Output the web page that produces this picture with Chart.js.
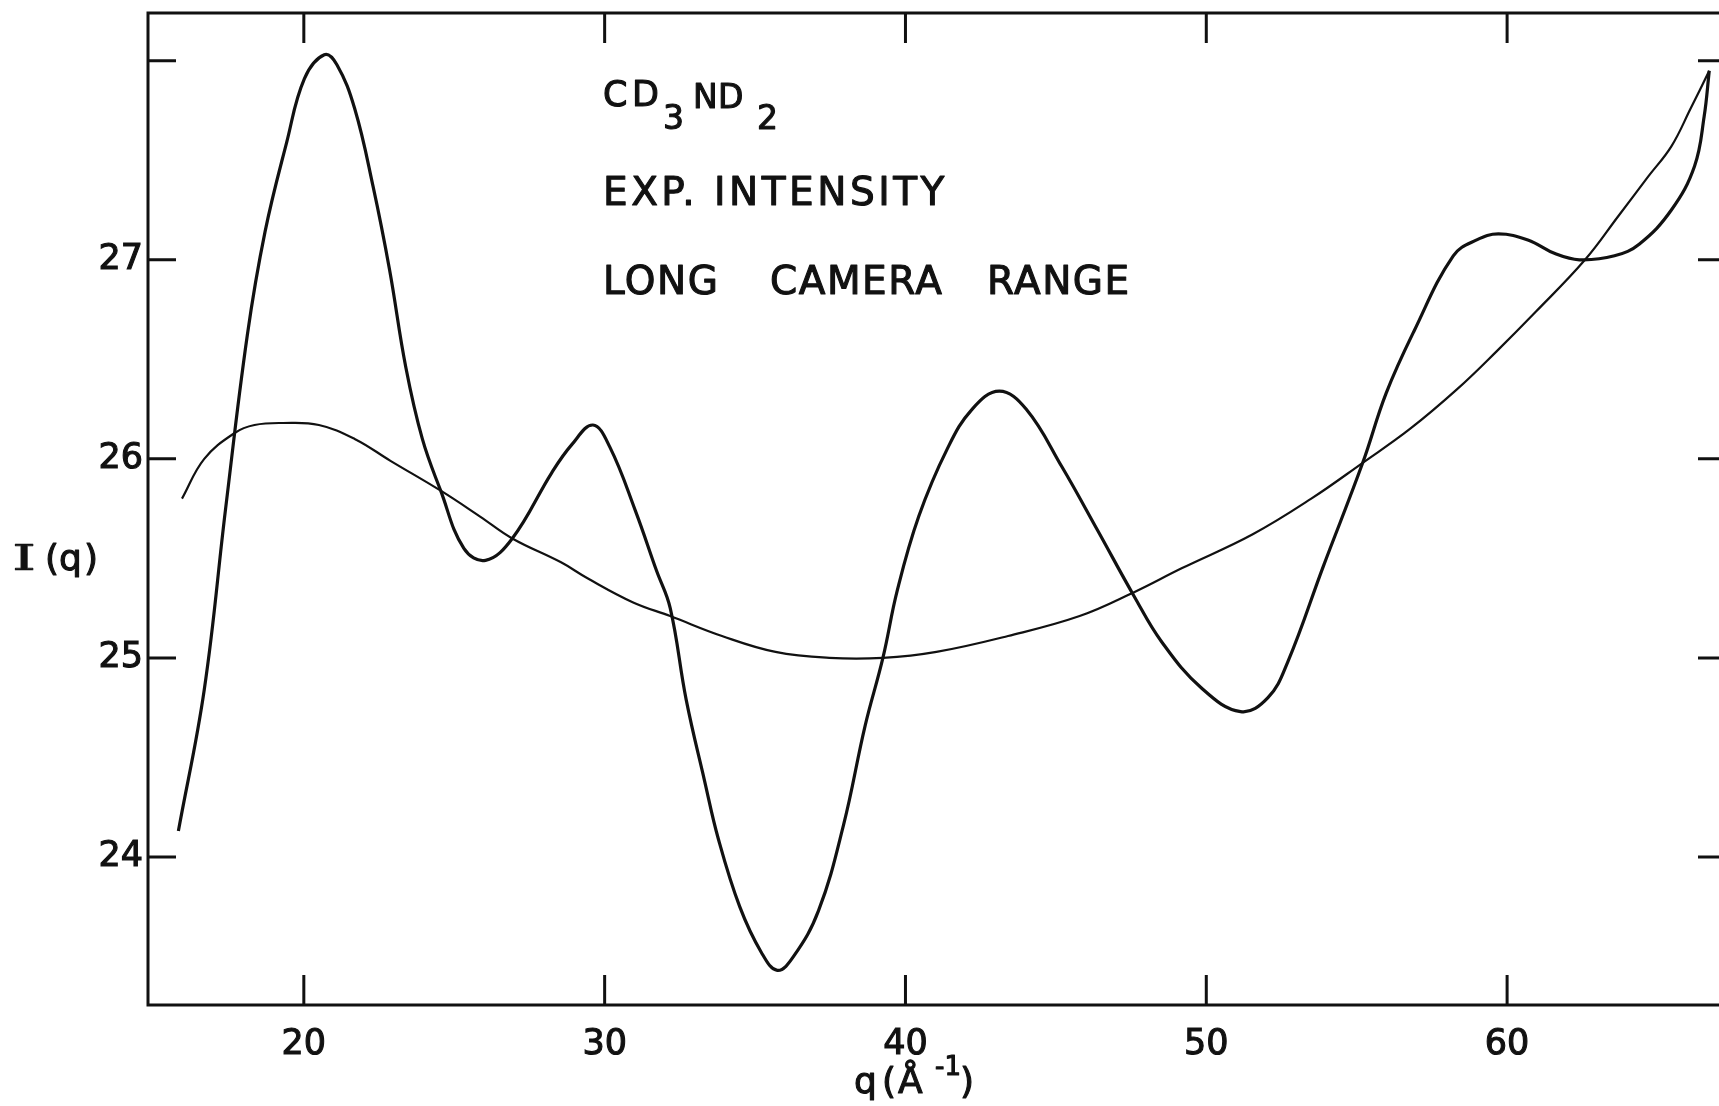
<!DOCTYPE html>
<html lang="en">

<head>
    <meta charset="UTF-8">
    <title>CD3ND2 exp. intensity</title>
    <script src="https://cdn.jsdelivr.net/npm/chart.js"></script>
    <style>
        html, body { margin: 0; padding: 0; background: #fff; overflow: hidden; }
        .plot { position: relative; width: 1740px; height: 1106px; }
    </style>
</head>

<body>
    <div class="plot">
        <canvas id="chart"></canvas>
    </div>
</body>
<script>

    // experimental intensity curve (oscillating one)
    const Q_EXP = [15.83, 16.69, 17.40, 18.12, 18.71, 19.43, 20.02, 20.68, 21.10, 21.69, 22.30, 22.85, 23.39, 23.94,
        24.55, 25.32, 26.04, 26.93, 28.24, 28.90, 29.61, 30.17, 31.02, 31.72, 32.18, 32.71, 33.31, 33.78, 34.49,
        35.21, 35.74, 36.28, 37.11, 37.94, 38.66, 39.25, 39.73, 40.44, 41.39, 42.22, 43.12, 44.01, 45.20, 46.39,
        47.60, 48.52, 49.83, 51.14, 52.05, 52.71, 53.89, 55.20, 55.98, 56.90, 58.21, 58.99, 59.71, 60.69, 61.61,
        62.40, 63.57, 64.40, 65.46, 66.23, 66.55, 66.72];
    const I_EXP = [24.13, 24.84, 25.75, 26.62, 27.14, 27.59, 27.91, 28.03, 27.98, 27.76, 27.37, 26.95, 26.46, 26.10,
        25.84, 25.55, 25.49, 25.60, 25.93, 26.07, 26.17, 26.06, 25.74, 25.44, 25.25, 24.79, 24.39, 24.09, 23.75,
        23.52, 23.43, 23.50, 23.73, 24.16, 24.66, 25.00, 25.34, 25.71, 26.05, 26.25, 26.34, 26.25, 25.96, 25.64,
        25.31, 25.08, 24.85, 24.73, 24.80, 24.98, 25.46, 25.98, 26.33, 26.64, 27.02, 27.10, 27.13, 27.10, 27.03,
        27.00, 27.02, 27.08, 27.25, 27.47, 27.72, 27.95];

    // smooth background curve
    const Q_BG = [15.95, 16.69, 17.70, 18.36, 19.31, 20.50, 21.69, 22.88, 24.55, 25.86, 26.93, 28.55, 29.43, 30.93,
        32.18, 33.90, 35.68, 37.47, 39.25, 41.03, 43.41, 45.79, 47.60, 49.18, 51.53, 53.49, 55.20, 56.77, 58.34,
        59.65, 60.96, 62.59, 63.70, 64.70, 65.46, 66.10, 66.72];
    const I_BG = [25.80, 26.00, 26.13, 26.17, 26.18, 26.17, 26.10, 25.99, 25.84, 25.71, 25.60, 25.48, 25.40, 25.28,
        25.21, 25.11, 25.03, 25.00, 25.00, 25.03, 25.11, 25.21, 25.33, 25.45, 25.62, 25.80, 25.98, 26.15, 26.35,
        26.54, 26.74, 27.00, 27.22, 27.42, 27.57, 27.76, 27.95];

    const X_TICKS = [20, 30, 40, 50, 60];
    const X_LABELS = ['20', '30', '40', '50', '60'];
    const Y_TICKS = [24, 25, 26, 27, 28];
    const Y_LABELS = ['24', '25', '26', '27', ''];

    const X_MIN = 14.82, X_MAX = 67.21;
    const Y_MIN = 23.256, Y_MAX = 28.24;

    const INK = '#111';
    const FONT = '"DejaVu Sans", sans-serif';

    function toPoints(xs, ys) {
        return xs.map((q, i) => ({ x: q, y: ys[i] }));
    }

    // text drawn a bit heavier, like pen lettering
    function letter(ctx, s, x, y) {
        ctx.strokeText(s, x, y);
        ctx.fillText(s, x, y);
    }

    // frame, inward ticks on all four sides and the lettering
    const frameAndText = {
        id: 'frameAndText',
        afterDraw(chart) {
            const { ctx, chartArea: a, scales: { x, y } } = chart;
            ctx.save();
            ctx.strokeStyle = INK;
            ctx.lineWidth = 3;
            ctx.beginPath();
            ctx.moveTo(a.right, a.top);
            ctx.lineTo(a.left, a.top);
            ctx.lineTo(a.left, a.bottom);
            ctx.lineTo(a.right, a.bottom);
            ctx.lineTo(a.right, a.top);
            X_TICKS.forEach(v => {
                const px = x.getPixelForValue(v);
                ctx.moveTo(px, a.bottom); ctx.lineTo(px, a.bottom - 30);
                ctx.moveTo(px, a.top); ctx.lineTo(px, a.top + 30);
            });
            Y_TICKS.forEach(v => {
                const py = y.getPixelForValue(v);
                ctx.moveTo(a.left, py); ctx.lineTo(a.left + 28, py);
                ctx.moveTo(a.right, py); ctx.lineTo(a.right - 26, py);
            });
            ctx.stroke();

            ctx.fillStyle = INK;
            ctx.lineWidth = 1.1;
            ctx.lineJoin = 'round';
            ctx.textBaseline = 'alphabetic';
            ctx.textAlign = 'left';

            // CD3ND2
            ctx.font = '35px ' + FONT;
            letter(ctx, 'C', 603, 106);
            letter(ctx, 'D', 632, 106);
            ctx.font = '33px ' + FONT;
            letter(ctx, 'N', 693, 108);
            letter(ctx, 'D', 718, 108);
            letter(ctx, '3', 663, 129);
            letter(ctx, '2', 757, 129);

            ctx.font = '39px ' + FONT;
            ctx.letterSpacing = '3.5px';
            letter(ctx, 'EXP. INTENSITY', 603, 205);
            ctx.letterSpacing = '1.5px';
            letter(ctx, 'LONG', 603, 294);
            letter(ctx, 'CAMERA', 770, 294);
            letter(ctx, 'RANGE', 987, 294);
            ctx.letterSpacing = '0px';

            // y title, the I with wide serifs
            ctx.save();
            ctx.font = '36px "DejaVu Serif", serif';
            ctx.lineWidth = 0.6;
            ctx.translate(12, 570);
            ctx.scale(1.7, 1);
            letter(ctx, 'I', 0, 0);
            ctx.restore();
            ctx.font = '36px ' + FONT;
            letter(ctx, '(', 45, 570);
            letter(ctx, 'q', 59, 570);
            letter(ctx, ')', 84, 570);

            // x title q(Å-1)
            letter(ctx, 'q', 854, 1093);
            letter(ctx, '(', 882, 1093);
            letter(ctx, 'Å', 898, 1093);
            letter(ctx, ')', 960, 1093);
            ctx.font = '26px ' + FONT;
            letter(ctx, '-1', 935, 1075);
            ctx.restore();
        }
    };

    let ctx = document.getElementById('chart');

    let chart = new Chart(ctx, {
        type: 'line',
        data: {
            datasets: [{
                label: 'I(q) exp',
                data: toPoints(Q_EXP, I_EXP),
                borderColor: INK,
                borderWidth: 3.2,
                pointRadius: 0,
                tension: 0.4
            },
            {
                label: 'background',
                data: toPoints(Q_BG, I_BG),
                borderColor: INK,
                borderWidth: 2.2,
                pointRadius: 0,
                tension: 0.4
            }]
        },
        options: {
            responsive: true,
            maintainAspectRatio: false,
            animation: false,
            events: [],
            layout: { padding: { top: 13, right: 16, left: 0, bottom: 0 } },
            plugins: { legend: { display: false }, tooltip: { enabled: false } },
            scales: {
                x: {
                    type: 'linear',
                    min: X_MIN,
                    max: X_MAX,
                    grid: { display: false, drawTicks: false, tickLength: 0 },
                    border: { display: false },
                    afterBuildTicks: s => { s.ticks = X_TICKS.map(v => ({ value: v })); },
                    afterFit: s => { s.height = 101; s.paddingLeft = 0; s.paddingRight = 0; },
                    ticks: {
                        autoSkip: false,
                        maxRotation: 0,
                        padding: 19,
                        color: INK,
                        textStrokeColor: INK,
                        textStrokeWidth: 1.1,
                        font: { family: FONT, size: 35 },
                        callback: (v, i) => X_LABELS[i]
                    }
                },
                y: {
                    type: 'linear',
                    min: Y_MIN,
                    max: Y_MAX,
                    grid: { display: false, drawTicks: false, tickLength: 0 },
                    border: { display: false },
                    afterBuildTicks: s => { s.ticks = Y_TICKS.map(v => ({ value: v })); },
                    afterFit: s => { s.width = 148; s.paddingTop = 0; s.paddingBottom = 0; },
                    ticks: {
                        autoSkip: false,
                        padding: 5,
                        color: INK,
                        textStrokeColor: INK,
                        textStrokeWidth: 1.1,
                        font: { family: FONT, size: 35 },
                        callback: (v, i) => Y_LABELS[i]
                    }
                }
            }
        },
        plugins: [frameAndText]
    });
</script>

</html>
